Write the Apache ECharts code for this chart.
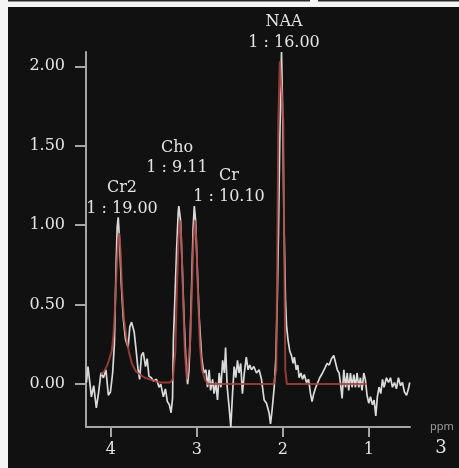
<!DOCTYPE html>
<html>
<head>
<meta charset="utf-8">
<script src="https://cdn.jsdelivr.net/npm/echarts@6/dist/echarts.min.js"></script>
<style>
html,body{margin:0;padding:0;background:#f4f4f4;}
#c{width:459px;height:468px;}
</style>
</head>
<body>
<div id="c"></div>
<script>
// Measured spectrum (white) — ppm / amplitude
const whitePpm = [4.285,4.267,4.25,4.227,4.20,4.17,4.145,4.116,4.087,4.058,
4.03,4.006,3.98,3.96,3.94,3.927,3.915,3.90,3.88,3.857,
3.83,3.80,3.78,3.76,3.73,3.71,3.686,3.666,3.645,3.624,
3.597,3.578,3.558,3.53,3.506,3.47,3.44,3.42,3.39,3.366,
3.343,3.32,3.30,3.283,3.273,3.256,3.236,3.217,3.21,3.19,
3.17,3.15,3.128,3.108,3.093,3.078,3.06,3.043,3.03,3.015,
2.996,2.973,2.945,2.92,2.895,2.876,2.857,2.84,2.817,2.80,
2.78,2.76,2.74,2.72,2.70,2.68,2.666,2.647,2.624,2.605,
2.585,2.566,2.547,2.527,2.51,2.49,2.47,2.45,2.425,2.404,
2.384,2.364,2.337,2.306,2.276,2.248,2.217,2.19,2.16,2.143,
2.124,2.10,2.08,2.066,2.05,2.035,2.015,2.0,1.985,1.969,
1.957,1.94,1.92,1.90,1.88,1.866,1.843,1.826,1.81,1.79,
1.77,1.75,1.724,1.70,1.678,1.66,1.64,1.616,1.593,1.57,
1.538,1.51,1.485,1.46,1.434,1.407,1.384,1.366,1.345,1.33,
1.31,1.29,1.27,1.25,1.233,1.213,1.194,1.174,1.155,1.136,
1.116,1.097,1.078,1.058,1.04,1.02,1.0,0.98,0.957,0.938,
0.918,0.90,0.88,0.86,0.84,0.822,0.794,0.77,0.747,0.724,
0.70,0.678,0.655,0.63,0.608,0.585,0.56,0.538,0.523];
const whiteVal = [0.01,0.11,0.03,-0.08,-0.01,-0.15,-0.06,0.07,0.04,0.09,
-0.07,-0.05,0.07,0.25,0.74,0.99,1.05,0.91,0.64,0.42,
0.28,0.23,0.36,0.39,0.33,0.23,0.10,0.03,0.18,0.20,
0.11,0.16,0.05,0.04,0.02,0.03,-0.02,0.00,-0.08,-0.03,
-0.11,-0.13,-0.18,-0.09,0.28,0.53,0.84,1.08,1.12,1.03,
0.74,0.42,0.15,0.00,0.08,0.28,0.64,0.99,1.12,1.03,
0.74,0.42,0.17,0.07,0.09,-0.02,0.09,-0.04,0.03,-0.06,
0.01,-0.10,0.07,-0.02,0.15,0.07,0.23,-0.02,-0.15,-0.27,
-0.06,0.11,0.04,0.15,0.07,0.13,-0.06,0.06,0.17,0.09,
0.12,0.09,0.11,0.07,0.09,0.03,-0.10,-0.12,-0.18,-0.25,
-0.16,-0.02,0.17,0.49,0.97,1.54,2.09,1.66,0.97,0.53,
0.37,0.28,0.21,0.18,0.13,0.17,0.09,0.12,0.04,0.07,
0.03,0.06,0.01,0.03,-0.06,-0.11,-0.06,-0.02,0.01,0.04,
0.07,0.10,0.13,0.12,0.16,0.18,0.17,0.09,0.07,0.01,
-0.09,0.09,-0.02,0.07,-0.04,0.07,-0.02,0.06,-0.02,0.07,
-0.02,0.04,-0.04,0.07,0.03,-0.07,-0.12,-0.08,-0.13,-0.10,
-0.20,-0.08,-0.02,-0.06,0.03,-0.02,0.04,0.01,0.04,-0.02,
0.01,-0.03,0.04,-0.01,0.01,-0.05,-0.07,-0.03,0.01];

// Fitted curve (red)
const fitPpm = [4.116,4.08,4.05,4.023,3.99,3.97,3.953,3.934,3.915,3.903,
3.887,3.87,3.85,3.82,3.79,3.756,3.71,3.66,3.605,3.547,
3.43,3.314,3.28,3.25,3.233,3.215,3.198,3.18,3.163,3.14,
3.116,3.10,3.076,3.058,3.04,3.023,3.006,2.988,2.965,2.94,
2.907,2.872,2.105,2.076,2.064,2.052,2.035,2.012,1.994,1.983,
1.971,1.953,1.023];
const fitVal = [0.06,0.08,0.11,0.15,0.21,0.31,0.47,0.72,0.91,0.95,
0.83,0.59,0.42,0.29,0.20,0.13,0.08,0.06,0.04,0.03,
0.01,0.01,0.03,0.21,0.59,0.91,1.03,0.91,0.59,0.21,
0.03,0.03,0.28,0.59,0.91,1.03,0.91,0.59,0.25,0.09,
0.03,0.00,0.00,0.09,0.84,1.66,2.03,2.03,1.66,0.84,
0.09,0.00,0.00];

const xTicks = [4, 3, 2, 1];
const yTicks = [0, 0.5, 1, 1.5, 2];
const peakNames  = ['Cr2', 'Cho', 'Cr', 'NAA'];
const peakRatios = ['1 : 19.00', '1 : 9.11', '1 : 10.10', '1 : 16.00'];

const whiteData = whitePpm.map((p, i) => [p, whiteVal[i]]);
const fitData = fitPpm.map((p, i) => [p, fitVal[i]]);

const serif = 'DejaVu Serif';
const txtColor = '#e4e4e4';
const axisColor = '#a6a6a6';

// annotation label positions (pixel layout)
const labelPos = [[122, 188, 209], [177, 148, 168], [229, 176, 197], [284, 22, 43]];
const annotations = [];
peakNames.forEach((n, i) => {
  const [x, y1, y2] = labelPos[i];
  annotations.push({type:'text', x:x, y:y1, z:20, style:{text:n, fill:txtColor, font:'16px "'+serif+'"', textAlign:'center', textVerticalAlign:'middle'}});
  annotations.push({type:'text', x:x, y:y2, z:20, style:{text:peakRatios[i], fill:txtColor, font:'16px "'+serif+'"', textAlign:'center', textVerticalAlign:'middle'}});
});

const chart = echarts.init(document.getElementById('c'), null, {renderer:'canvas'});
chart.setOption({
  animation: false,
  backgroundColor: '#f4f4f4',
  grid: {left: 86, right: 49, top: 52, bottom: 41, containLabel: false},
  xAxis: {
    type: 'value', min: 0.52, max: 4.29, inverse: true,
    axisLine: {show: true, onZero: false, lineStyle: {color: axisColor, width: 2}},
    axisTick: {show: true, customValues: xTicks, length: 10, lineStyle: {color: axisColor, width: 2}},
    axisLabel: {customValues: xTicks, margin: 15, color: txtColor, fontFamily: serif, fontSize: 16},
    splitLine: {show: false},
    name: 'ppm', nameLocation: 'start', nameGap: 20,
    nameTextStyle: {color: '#9c9c9c', fontFamily: 'Noto Sans', fontSize: 11, verticalAlign: 'middle', padding: [0,0,2,0]}
  },
  yAxis: {
    type: 'value', min: -0.27, max: 2.09,
    axisLine: {show: true, onZero: false, lineStyle: {color: axisColor, width: 2}},
    axisTick: {show: true, customValues: yTicks, length: 11, lineStyle: {color: axisColor, width: 2}},
    axisLabel: {customValues: yTicks, margin: 21, color: txtColor, fontFamily: serif, fontSize: 16,
      formatter: v => Number(v).toFixed(2)},
    splitLine: {show: false}
  },
  graphic: [
    {type:'rect', z:-10, shape:{x:8, y:7, width:451, height:461}, style:{fill:'#111111'}},
    {type:'rect', z:-10, shape:{x:8, y:0, width:302, height:1.5}, style:{fill:'#2a2a2a'}},
    {type:'rect', z:-10, shape:{x:318, y:0, width:141, height:1.5}, style:{fill:'#2a2a2a'}},
    {type:'text', x:441, y:448, z:20, style:{text:'3', fill:txtColor, font:'18px "'+serif+'"', textAlign:'center', textVerticalAlign:'middle'}}
  ].concat(annotations),
  series: [
    {type:'line', data: whiteData, showSymbol:false, symbol:'none', z:2,
     lineStyle:{color:'#dadada', width:1.7}},
    {type:'line', data: fitData, showSymbol:false, symbol:'none', z:3,
     lineStyle:{color:'#a8433f', width:2, opacity:0.85}}
  ]
});
</script>
</body>
</html>
